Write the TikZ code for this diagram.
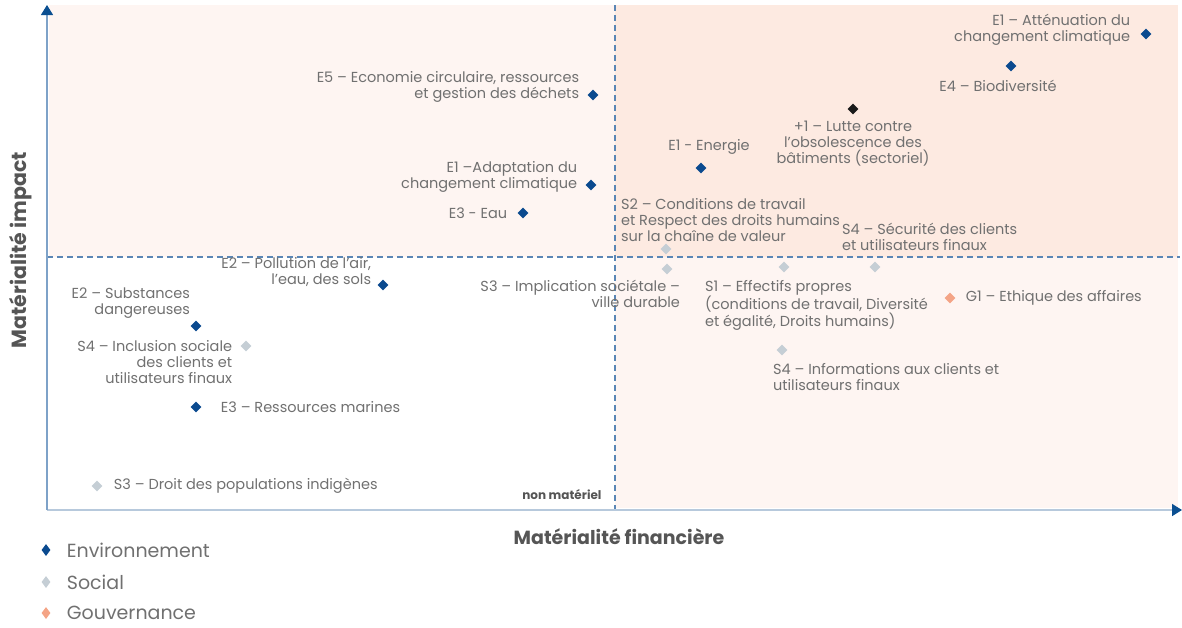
\documentclass[tikz,border=0pt]{standalone}
\usepackage{fontspec}
\setmainfont{Poppins}
\usetikzlibrary{shapes.geometric,positioning,arrows.meta}

\definecolor{envblue}{HTML}{0B4A8F}
\definecolor{socgray}{HTML}{C5CED5}
\definecolor{govsalmon}{HTML}{F4A486}
\definecolor{sectblack}{HTML}{1A1A1A}
\definecolor{txtgray}{HTML}{707070}
\definecolor{titlegray}{HTML}{555555}
\definecolor{axisblue}{HTML}{7EA2C8}
\definecolor{axislight}{HTML}{B7C9DC}
\definecolor{dashblue}{HTML}{5A86B5}
\definecolor{tipblue}{HTML}{0B4F91}
\definecolor{paleq}{HTML}{FEF5F2}
\definecolor{peachq}{HTML}{FDEAE1}

\tikzset{
  mk/.style={diamond, inner sep=0pt, minimum width=11pt, minimum height=11pt},
  env/.style={mk, fill=envblue},
  soc/.style={mk, fill=socgray},
  gov/.style={mk, fill=govsalmon},
  sect/.style={mk, fill=sectblack},
  lbl/.style={inner sep=0pt, text=txtgray, font=\fontsize{14.5}{16}\selectfont},
  lblr/.style={lbl, align=right},
  lbll/.style={lbl, align=left},
  lblc/.style={lbl, align=center},
  lgtxt/.style={inner sep=0pt, text=txtgray, font=\fontsize{19}{22}\selectfont},
  axtitle/.style={text=titlegray, font=\bfseries\fontsize{19}{22}\selectfont},
  quad/.style={dashblue, line width=1.3pt, dash pattern=on 6pt off 4pt},
}

\begin{document}
\begin{tikzpicture}[x=1pt,y=-1pt]
    \useasboundingbox (0,0) rectangle (1182,627);
    \fill[paleq] (49,5) rectangle (615,257);
    \fill[peachq] (615,5) rectangle (1178,257);
    \fill[paleq] (615,257) rectangle (1178,508);

    \coordinate (O) at (47,510);
    \coordinate (ytop) at (47,5);
    \coordinate (xend) at (1182,510);
    \coordinate (vtop) at (615,5);
    \coordinate (vbot) at (615,510);
    \coordinate (hleft) at (47,257);
    \coordinate (hright) at (1180,257);

    \draw[quad] (vtop) -- (vbot);
    \draw[quad] (hleft) -- (hright);
    \draw[axislight, line width=1.5pt, -{Triangle[color=tipblue,width=12pt,length=10pt]}] (O) -- (xend);
    \draw[axisblue, line width=1.2pt, -{Triangle[color=tipblue,width=12pt,length=10pt]}] (O) -- (ytop);

    \node[axtitle, rotate=90, font=\bfseries\fontsize{20.5}{24}\selectfont] (ytitle) at (21,250) {Matérialité impact};
    \node[axtitle] (xtitle) at (619,537) {Matérialité financière};
    \node[axtitle, anchor=east, font=\bfseries\fontsize{12}{14}\selectfont] (nonmat) at (605,495) {non matériel};

    \node[env] (e1att) at (1146,34) {};
    \node[env] (e4bio) at (1011,66) {};
    \node[sect] (lutte) at (853,109) {};
    \node[env] (e1ener) at (701,168) {};
    \node[env] (e5eco) at (593,95) {};
    \node[env] (e1adap) at (591,185) {};
    \node[env] (e3eau) at (523,213) {};
    \node[soc] (s2cond) at (666,249) {};
    \node[soc] (s3impl) at (667,269) {};
    \node[soc] (s1eff) at (784,267) {};
    \node[soc] (s4secu) at (875,267) {};
    \node[gov] (g1eth) at (950,298) {};
    \node[soc] (s4info) at (782,350) {};
    \node[env] (e2poll) at (383,285) {};
    \node[env] (e2subs) at (196,326) {};
    \node[soc] (s4incl) at (246,346) {};
    \node[env] (e3mar) at (196,407) {};
    \node[soc] (s3droit) at (97,486) {};

    \node[lblr, left=10pt of e1att, yshift=4pt] (e1attL) {E1 – Atténuation du\\changement climatique};
    \node[lblc, below=8pt of e4bio, xshift=-13pt] (e4bioL) {E4 – Biodiversité};
    \node[lblc, below=6pt of lutte] (lutteL) {+1 – Lutte contre\\l’obsolescence des\\bâtiments (sectoriel)};
    \node[lblc, above=8pt of e1ener, xshift=8pt] (e1enerL) {E1 - Energie};
    \node[lblr, left=8pt of e5eco, yshift=8pt] (e5ecoL) {E5 – Economie circulaire, ressources\\et gestion des déchets};
    \node[lblr, left=8pt of e1adap, yshift=8pt] (e1adapL) {E1 –Adaptation du\\changement climatique};
    \node[lblr, left=10pt of e3eau] (e3eauL) {E3 - Eau};
    \node[lbll, above right=4pt and -48pt of s2cond] (s2condL) {S2 – Conditions de travail\\et Respect des droits humains\\sur la chaîne de valeur};
    \node[lbll, above right=13pt and -36pt of s4secu] (s4secuL) {S4 – Sécurité des clients\\et utilisateurs finaux};
    \node[lblr, below left=8pt and -16pt of s3impl] (s3implL) {S3 – Implication sociétale –\\ville durable};
    \node[lbll, below right=10pt and -82pt of s1eff] (s1effL) {S1 – Effectifs propres\\(conditions de travail, Diversité\\et égalité, Droits humains)};
    \node[lbll, right=10pt of g1eth] (g1ethL) {G1 – Ethique des affaires};
    \node[lbll, below right=10pt and -12pt of s4info] (s4infoL) {S4 – Informations aux clients et\\utilisateurs finaux};
    \node[lblr, left=6pt of e2poll, yshift=13pt] (e2pollL) {E2 – Pollution de l’air,\\l’eau, des sols};
    \node[lblr, above left=5pt and 3pt of e2subs] (e2subsL) {E2 – Substances\\dangereuses};
    \node[lblr, left=8pt of s4incl, yshift=-16pt] (s4inclL) {S4 – Inclusion sociale\\des clients et\\utilisateurs finaux};
    \node[lbll, right=19pt of e3mar] (e3marL) {E3 – Ressources marines};
    \node[lbll, right=11pt of s3droit] (s3droitL) {S3 – Droit des populations indigènes};

    \node[env, minimum width=9pt, minimum height=12pt] (lgenv) at (46,550) {};
    \node[soc, minimum width=9pt, minimum height=12pt] (lgsoc) at (46,582) {};
    \node[gov, minimum width=9pt, minimum height=12pt] (lggov) at (46,613) {};
    \node[lgtxt, right=16pt of lgenv] (lgenvL) {Environnement};
    \node[lgtxt, right=16pt of lgsoc] (lgsocL) {Social};
    \node[lgtxt, right=16pt of lggov] (lggovL) {Gouvernance};
\end{tikzpicture}
\end{document}
